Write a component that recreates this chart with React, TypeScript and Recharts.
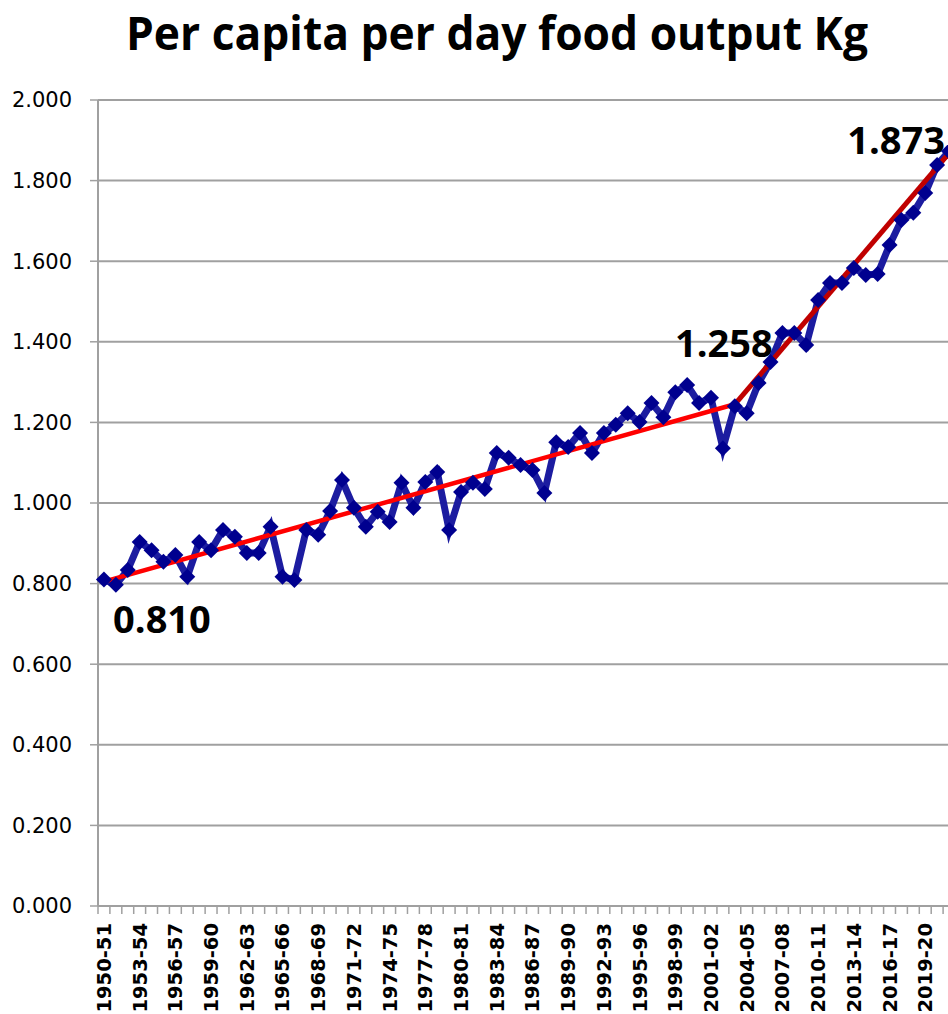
import { LineChart, Line, XAxis, YAxis, CartesianGrid } from "recharts";

// fiscal years 1950-51 .. 2021-22
const years: string[] = [];
for (let y = 1950; y <= 2021; y++) {
  years.push(`${y}-${String((y + 1) % 100).padStart(2, "0")}`);
}

// per capita per day food output, kg
const output = [
  0.81, 0.797, 0.834, 0.903, 0.883, 0.854, 0.871, 0.817, 0.903, 0.883,
  0.933, 0.916, 0.876, 0.876, 0.941, 0.817, 0.809, 0.933, 0.921, 0.98,
  1.057, 0.988, 0.941, 0.978, 0.953, 1.05, 0.988, 1.052, 1.077, 0.933,
  1.027, 1.05, 1.035, 1.124, 1.112, 1.094, 1.082, 1.025, 1.151, 1.139,
  1.174, 1.124, 1.174, 1.194, 1.223, 1.201, 1.248, 1.213, 1.275, 1.293,
  1.248, 1.261, 1.136, 1.24, 1.223, 1.298, 1.35, 1.422, 1.422, 1.392,
  1.504, 1.546, 1.546, 1.583, 1.566, 1.568, 1.64, 1.702, 1.72, 1.769,
  1.839, 1.873,
];

// trend line break points (year index, value)
const trendIdx = [0, 53, 71];
const trendVal = [0.805, 1.245, 1.868];

// callout labels
const calloutText = ["0.810", "1.258", "1.873"];

const yTicks = [0, 0.2, 0.4, 0.6, 0.8, 1.0, 1.2, 1.4, 1.6, 1.8, 2.0];

const data = years.map((year, i) => {
  const k = trendIdx.indexOf(i);
  return {
    year,
    output: output[i],
    trendA: i === trendIdx[0] || i === trendIdx[1] ? trendVal[trendIdx.indexOf(i)] : null,
    trendB: i === trendIdx[1] || i === trendIdx[2] ? trendVal[trendIdx.indexOf(i)] : null,
    callout: k >= 0 ? output[i] : null,
    calloutLabel: k >= 0 ? calloutText[k] : null,
  };
});

const BAND = (955 - 98) / years.length;

const Diamond = (props: any) => {
  const { cx, cy } = props;
  if (cx == null || cy == null) return null;
  const r = 8;
  return (
    <polygon
      points={`${cx},${cy - r} ${cx + r},${cy} ${cx},${cy + r} ${cx - r},${cy}`}
      fill="#00008f"
    />
  );
};

const YearTick = (props: any) => {
  const { x, y, payload, index } = props;
  const i = payload?.index ?? index;
  const left = x - BAND / 2;
  return (
    <g>
      <line x1={left} y1={y - 8} x2={left} y2={y} stroke="#a0a0a0" strokeWidth={1.5} />
      {i === years.length - 1 && (
        <line x1={left + BAND} y1={y - 8} x2={left + BAND} y2={y} stroke="#a0a0a0" strokeWidth={1.5} />
      )}
      {i % 3 === 0 && (
        <text
          transform={`translate(${x + 7},${y + 9}) rotate(-90)`}
          textAnchor="end"
          fontFamily="DejaVu Sans"
          fontWeight="bold"
          fontSize={19.5}
          fill="#000"
        >
          {payload.value}
        </text>
      )}
    </g>
  );
};

const offsets: Record<number, [number, number]> = {
  0: [58, 53],
  53: [-11, -49],
  71: [-53, 3],
};

const Callout = (props: any) => {
  const { x, y, index } = props;
  const text = data[index]?.calloutLabel;
  if (text == null || x == null || y == null) return null;
  const [dx, dy] = offsets[index] ?? [0, 0];
  return (
    <text
      x={x + dx}
      y={y + dy}
      textAnchor="middle"
      fontFamily="Open Sans"
      fontWeight="bold"
      fontSize={38}
      fill="#000"
    >
      {text}
    </text>
  );
};

export default function App() {
  return (
    <div
      style={{
        position: "absolute",
        left: 0,
        top: 0,
        width: 948,
        height: 1014,
        overflow: "hidden",
        background: "#fff",
      }}
    >
      <svg
        width={948}
        height={80}
        style={{ position: "absolute", left: 0, top: 0 }}
      >
        <text
          x={497}
          y={50}
          textAnchor="middle"
          fontFamily="Open Sans"
          fontWeight="bold"
          fontSize={46}
          textLength={742}
          lengthAdjust="spacingAndGlyphs"
          fill="#000"
        >
          Per capita per day food output Kg
        </text>
      </svg>
      <div style={{ position: "absolute", left: 0, top: 0 }}>
        <LineChart
          width={960}
          height={1014}
          data={data}
          margin={{ top: 100, right: 5, bottom: 0, left: 0 }}
        >
          <CartesianGrid vertical={false} stroke="#a0a0a0" strokeWidth={2} />
          <XAxis
            dataKey="year"
            scale="band"
            interval={0}
            height={108}
            tickLine={false}
            axisLine={{ stroke: "#a0a0a0", strokeWidth: 2 }}
            tick={<YearTick />}
          />
          <YAxis
            width={98}
            domain={[0, 2]}
            ticks={yTicks}
            tickFormatter={(v: number) => v.toFixed(3)}
            tickSize={8}
            tickMargin={18}
            axisLine={{ stroke: "#a0a0a0", strokeWidth: 2 }}
            tickLine={{ stroke: "#a0a0a0", strokeWidth: 1.5 }}
            tick={{ fontFamily: "DejaVu Sans", fontSize: 21, fill: "#000" }}
          />
          <Line
            dataKey="output"
            stroke="#1c1ca0"
            strokeWidth={7}
            dot={<Diamond />}
            activeDot={false}
            isAnimationActive={false}
          />
          <Line
            dataKey="trendA"
            stroke="#ff0000"
            strokeWidth={4.5}
            dot={false}
            activeDot={false}
            connectNulls
            isAnimationActive={false}
          />
          <Line
            dataKey="trendB"
            stroke="#c00000"
            strokeWidth={5}
            dot={false}
            activeDot={false}
            connectNulls
            isAnimationActive={false}
          />
          <Line
            dataKey="callout"
            stroke="none"
            dot={false}
            activeDot={false}
            isAnimationActive={false}
            label={<Callout />}
          />
        </LineChart>
      </div>
    </div>
  );
}
